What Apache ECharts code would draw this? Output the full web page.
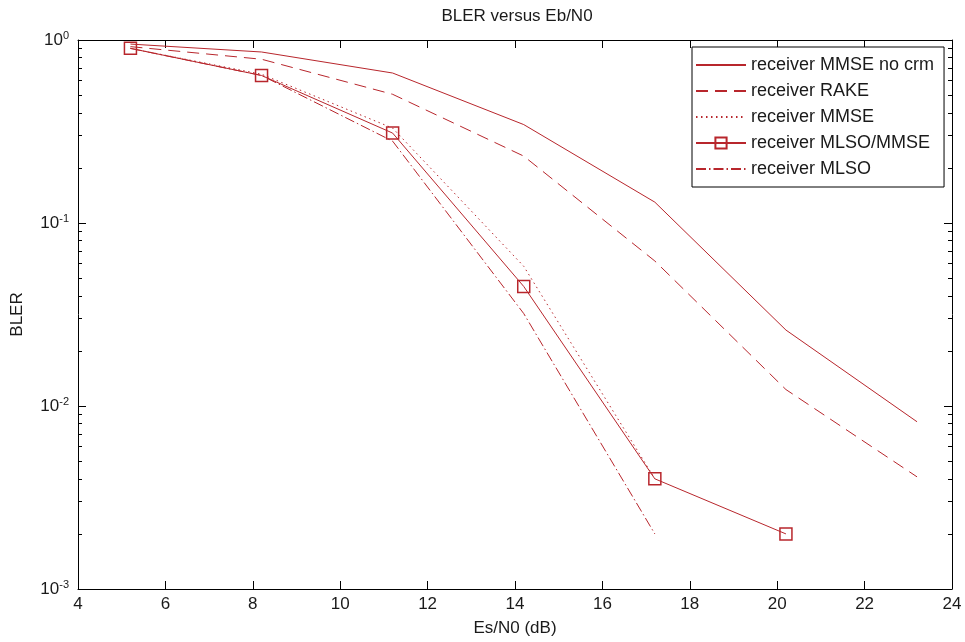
<!DOCTYPE html>
<html>
<head>
<meta charset="utf-8">
<title>BLER versus Eb/N0</title>
<script src="https://cdn.jsdelivr.net/npm/echarts@6/dist/echarts.min.js"></script>
<style>
  html, body { margin: 0; padding: 0; background: #fff; }
  #chart { width: 965px; height: 642px; }
</style>
</head>
<body>
<div id="chart"></div>
<script>
// Es/N0 operating points (dB)
const esn0 = [5.2, 8.2, 11.2, 14.2, 17.2, 20.2, 23.2];

// Block error rate per receiver
const mmseNoCrm = [0.95, 0.86, 0.66, 0.345, 0.13, 0.026, 0.0082];
const rake      = [0.92, 0.785, 0.505, 0.232, 0.062, 0.0123, 0.0041];
const mmse      = [0.90, 0.65, 0.33, 0.058, 0.004];
const mlsoMmse  = [0.90, 0.64, 0.31, 0.045, 0.004, 0.002];
const mlso      = [0.90, 0.64, 0.28, 0.032, 0.002];

const seriesNames = [
  'receiver MMSE no crm',
  'receiver RAKE',
  'receiver MMSE',
  'receiver MLSO/MMSE',
  'receiver MLSO'
];

// Axis ticks
const xTicks = [4, 6, 8, 10, 12, 14, 16, 18, 20, 22, 24];
const yMajor = [0.001, 0.01, 0.1, 1];
const yMinor = [];
[0.001, 0.01, 0.1].forEach(d => { for (let k = 2; k <= 9; k++) yMinor.push(+(d * k).toPrecision(3)); });

const RED = '#b8262c';
const FONT = '"Liberation Sans", Arial, Helvetica, sans-serif';
const INK = '#1a1a1a';

function pairs(ys) { return ys.map((y, i) => [esn0[i], y]); }

function logAxis(position, ticks, len, showLabel, showLine) {
  return {
    type: 'log', logBase: 10, min: 0.001, max: 1, position: position,
    axisLine: { show: showLine, lineStyle: { color: '#000', width: 1 } },
    axisTick: { show: true, inside: true, length: len, customValues: ticks,
                lineStyle: { color: '#000', width: 1 } },
    axisLabel: {
      show: showLabel, customValues: yMajor, margin: 9,
      formatter: v => '{b|10}{e|' + Math.round(Math.log10(v)) + '}',
      rich: {
        b: { fontSize: 17, fontFamily: FONT, color: INK },
        e: { fontSize: 11, fontFamily: FONT, color: INK, verticalAlign: 'top', padding: [0, 0, 8, 0] }
      }
    },
    splitLine: { show: false }, minorTick: { show: false }
  };
}

const chart = echarts.init(document.getElementById('chart'), null, { renderer: 'canvas' });

const lineBase = (name, data, type, extra) => Object.assign({
  name: name, type: 'line', data: pairs(data), xAxisIndex: 0, yAxisIndex: 0,
  symbol: 'none', smooth: false, silent: true,
  lineStyle: { color: RED, width: 1, type: type },
  itemStyle: { color: RED }
}, extra || {});

// Legend entries: plain lines carry no marker, the MLSO/MMSE entry keeps its square
const legendItems = seriesNames.map((n, i) => i === 3
  ? { name: n }
  : { name: n, itemStyle: { opacity: 0, color: 'transparent', borderColor: 'transparent' } });

chart.setOption({
  animation: false,
  backgroundColor: '#fff',
  title: {
    text: 'BLER versus Eb/N0', left: 517, top: 8, textAlign: 'center', padding: 0,
    textStyle: { fontSize: 17, fontWeight: 'normal', fontFamily: FONT, color: INK }
  },
  grid: { left: 78, right: 13, top: 40, bottom: 53, containLabel: false, outerBoundsMode: 'none' },
  legend: {
    orient: 'vertical', left: 692, top: 47,
    padding: [8, 10, 8, 3], itemGap: 6, itemWidth: 50, itemHeight: 14,
    backgroundColor: '#fff', borderColor: '#000', borderWidth: 1, borderRadius: 0,
    data: legendItems,
    textStyle: { fontSize: 18, fontFamily: FONT, color: INK, lineHeight: 20 },
    selectedMode: false
  },
  xAxis: [
    {
      type: 'value', min: 4, max: 24, interval: 2, position: 'bottom',
      name: 'Es/N0 (dB)', nameLocation: 'middle', nameGap: 31,
      nameTextStyle: { fontSize: 17, fontFamily: FONT, color: INK },
      axisLine: { show: true, onZero: false, lineStyle: { color: '#000', width: 1 } },
      axisTick: { show: true, inside: true, length: 8, customValues: xTicks, lineStyle: { color: '#000' } },
      axisLabel: { fontSize: 17, fontFamily: FONT, color: INK, margin: 7, customValues: xTicks },
      splitLine: { show: false }
    },
    {
      type: 'value', min: 4, max: 24, interval: 2, position: 'top',
      axisLine: { show: true, onZero: false, lineStyle: { color: '#000', width: 1 } },
      axisTick: { show: true, inside: true, length: 8, customValues: xTicks, lineStyle: { color: '#000' } },
      axisLabel: { show: false },
      splitLine: { show: false }
    }
  ],
  yAxis: [
    Object.assign(logAxis('left', yMajor, 8, true, true), {
      name: 'BLER', nameLocation: 'middle', nameGap: 52, nameRotate: 90,
      nameTextStyle: { fontSize: 17, fontFamily: FONT, color: INK }
    }),
    logAxis('left', yMinor, 4, false, false),
    logAxis('right', yMajor, 8, false, true),
    logAxis('right', yMinor, 4, false, false)
  ],
  series: [
    lineBase(seriesNames[0], mmseNoCrm, 'solid'),
    lineBase(seriesNames[1], rake, [12, 7]),
    lineBase(seriesNames[2], mmse, [1.5, 3.5]),
    lineBase(seriesNames[3], mlsoMmse, 'solid', {
      symbol: 'rect', symbolSize: 12, showSymbol: true,
      itemStyle: { color: 'none', borderColor: RED, borderWidth: 1.5 }
    }),
    lineBase(seriesNames[4], mlso, [10, 3, 1.5, 3])
  ]
});
</script>
</body>
</html>
